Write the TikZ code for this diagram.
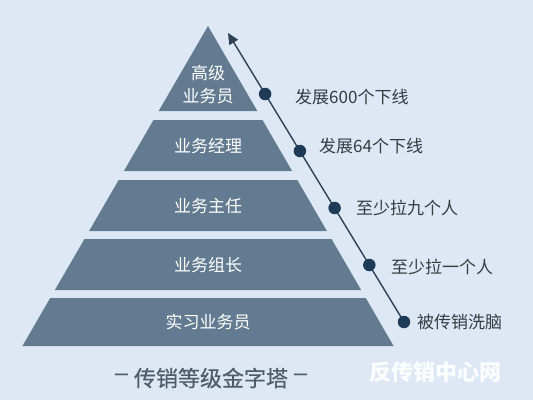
\documentclass[tikz,border=0pt]{standalone}
\usepackage{fontspec}
\usepackage{graphicx}
\setmainfont{Noto Sans CJK SC}
\newfontfamily\titlefont{Noto Sans CJK SC}[FakeBold=0.5]
\usetikzlibrary{arrows.meta}
\definecolor{bgc}{HTML}{DDE8F4}
\definecolor{pyr}{HTML}{627B90}
\definecolor{dotc}{HTML}{1E3B58}
\definecolor{linec}{HTML}{2D4257}
\definecolor{labc}{HTML}{353B42}
\definecolor{titc}{HTML}{4F5D6B}
\def\Lx#1{208-0.58*(#1-26)}
\def\Rx#1{208+0.58*(#1-26)}
\newcommand\tdash{\raisebox{0.27em}{\scalebox{1.3}[1]{–}}}
\begin{document}
\begin{tikzpicture}[x=1pt,y=-1pt,
  layer/.style={fill=pyr},
  lvl/.style={text=white,font=\fontsize{17}{23}\selectfont,inner sep=0pt,align=center},
  dot/.style={circle,fill=dotc,minimum size=12.5pt,inner sep=0pt},
  lab/.style={anchor=west,text=labc,font=\fontsize{17}{20}\selectfont,inner sep=0pt},
  conn/.style={draw=linec,line width=1.4pt}]
\fill[bgc] (0,0) rectangle (533,400);
\useasboundingbox (0,0) rectangle (533,400);
% pyramid layers
\fill[layer] (208,26) -- ({\Rx{111}},111) -- ({\Lx{111}},111) -- cycle;
\fill[layer] ({\Lx{120}},120) -- ({\Rx{120}},120) -- ({\Rx{171}},171) -- ({\Lx{171}},171) -- cycle;
\fill[layer] ({\Lx{180}},180) -- ({\Rx{180}},180) -- ({\Rx{231}},231) -- ({\Lx{231}},231) -- cycle;
\fill[layer] ({\Lx{239}},239) -- ({\Rx{239}},239) -- ({\Rx{290}},290) -- ({\Lx{290}},290) -- cycle;
\fill[layer] ({\Lx{298}},298) -- ({\Rx{298}},298) -- ({\Rx{346}},346) -- ({\Lx{346}},346) -- cycle;
% level texts
\node[lvl] (v1) at (208,85) {高级\\业务员};
\node[lvl] (v2) at (208,146) {业务经理};
\node[lvl] (v3) at (208,206) {业务主任};
\node[lvl] (v4) at (208,265) {业务组长};
\node[lvl] (v5) at (208,322) {实习业务员};
% arrow line and dots
\coordinate (tip) at (228,33);
\draw[conn,-{Triangle[length=11pt,width=10pt]}] (404,322) -- (tip);
\node[dot] (d1) at (265.1,94) {};
\node[dot] (d2) at (299.9,151) {};
\node[dot] (d3) at (334.6,208) {};
\node[dot] (d4) at (369.3,265) {};
\node[dot] (d5) at (404,322) {};
% labels
\node[lab] (l1) at (295,97) {发展600个下线};
\node[lab] (l2) at (319,146) {发展64个下线};
\node[lab] (l3) at (356,208) {至少拉九个人};
\node[lab] (l4) at (391,267) {至少拉一个人};
\node[lab] (l5) at (417,322) {被传销洗脑};
% title and watermark
\node[text=titc,font=\titlefont\fontsize{22}{24}\selectfont,inner sep=0pt] (title) at (211,378) {\tdash{} 传销等级金字塔 \tdash};
\node[text=white,opacity=0.92,font=\bfseries\fontsize{22}{24}\selectfont,anchor=west,inner sep=0pt] (wm) at (369,372) {反传销中心网};
\end{tikzpicture}
\end{document}
